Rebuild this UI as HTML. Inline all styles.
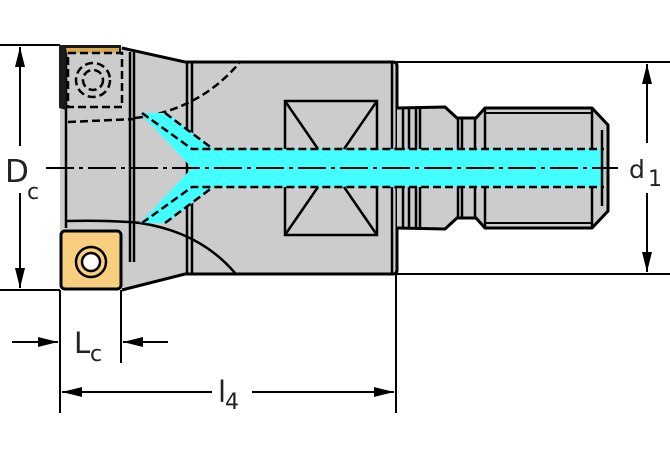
<!DOCTYPE html>
<html><head><meta charset="utf-8"><style>
html,body{margin:0;padding:0;background:#fff;width:670px;height:460px;overflow:hidden}
svg{display:block}
text{font-family:"DejaVu Sans","Liberation Sans",sans-serif;fill:#222}
</style></head><body>
<svg width="670" height="460" viewBox="0 0 670 460" xmlns="http://www.w3.org/2000/svg">
<defs>
<marker id="ah" viewBox="0 0 20 10" refX="20" refY="5" markerWidth="20" markerHeight="10" markerUnits="userSpaceOnUse" orient="auto"><path d="M0,0 L20,5 L0,10 Z" fill="#000"/></marker>
</defs>
<!-- head -->
<path d="M60,47 L122,47 L185,62 L396,62 L396,274 L185,274 L122,289 L60,289 Z" fill="#cccccc"/>
<path d="M122,48 L185,62 L393,62 Q397,62 397,66 L397,270 Q397,274 393,274 L185,274 L122,290" fill="none" stroke="#000" stroke-width="3"/>
<g stroke="#000" stroke-width="2.5" fill="none">
<line x1="66" y1="52" x2="66" y2="228"/>
<line x1="130" y1="52" x2="130" y2="262"/>
<line x1="134" y1="52" x2="134" y2="262"/>
<line x1="187" y1="62" x2="187" y2="274"/>
<line x1="192" y1="62" x2="192" y2="274"/>
<line x1="392" y1="62" x2="392" y2="274"/>
</g>
<path d="M66,221 Q110,220 140,223 Q200,232 235,273" fill="none" stroke="#000" stroke-width="2.5"/>
<!-- top insert -->
<path d="M59,45 L121,45 L121,52 L68,52 L66,58 L66,110 L59,108 Z" fill="#1a1a1a"/>
<path d="M66,48 L119,48 L119,53 L67,53 Z" fill="#d9a84e"/>
<g stroke="#000" stroke-width="2.5" fill="none" stroke-dasharray="8,4">
<rect x="68" y="53" width="54" height="54"/>
<circle cx="93" cy="80" r="17"/>
<circle cx="93" cy="80" r="10"/>
<path d="M68,122 L135,119"/>
<path d="M135,118 Q200,110 240,62"/>
</g>
<!-- coolant -->
<path d="M140,113 L167,113 L213,149 L604,149 L604,187 L213,187 L167,223 L140,223 L192,168 Z" fill="#44ffff"/>
<g stroke="#000" stroke-width="2.5" fill="none" stroke-dasharray="8,4">
<path d="M142,113 L192,149 L213,149 L397,149"/>
<path d="M165,113 L213,149"/>
<path d="M142,223 L192,187 L213,187 L397,187"/>
<path d="M165,223 L213,187"/>
</g>
<g stroke="#000" stroke-width="2.5" fill="none">
<path d="M285,149 L285,101 L377,101 L377,149"/>
<path d="M285,187 L285,235 L377,235 L377,187"/>
<path d="M285,101 L318,149 M377,101 L344,149 M285,235 L318,187 M377,235 L344,187"/>
</g>
<!-- bottom insert -->
<rect x="61" y="231" width="60" height="58" rx="4" fill="#f7cf7f" stroke="#000" stroke-width="3"/>
<circle cx="91" cy="262" r="15" fill="none" stroke="#000" stroke-width="2.5"/>
<circle cx="91" cy="262" r="9" fill="#fff" stroke="#000" stroke-width="2.5"/>
<!-- shank -->
<path d="M397,108 L445,107 L457,118 L476,118 L485,108 L592,108 L608,125 L608,211 L592,228 L485,228 L476,218 L457,218 L445,229 L397,228 Z" fill="#cccccc"/>
<path d="M604,149 L604,187 L397,187 L397,149 Z" fill="#44ffff"/>
<g stroke="#000" stroke-width="2.5" fill="none" stroke-dasharray="8,4">
<path d="M397,149 L604,149 M397,187 L604,187"/>
</g>
<path d="M397,108 L445,107 L457,118 L476,118 L485,108 L592,108 L608,125 L608,211 L592,228 L485,228 L476,218 L457,218 L445,229 L397,228" fill="none" stroke="#000" stroke-width="3"/>
<g stroke="#000" stroke-width="2.5">
<path d="M403,108V149M403,187V228 M409,108V149M409,187V228 M416,108V149M416,187V228 M420,108V149M420,187V228 M458,118V149M458,187V218 M462,118V149M462,187V218 M475,118V149M475,187V218 M485,108V149M485,187V228 M592,108V149M592,187V228 M602,130V206"/>
</g>
<line x1="485" y1="113" x2="592" y2="113" stroke="#000" stroke-width="2"/>
<line x1="485" y1="223" x2="592" y2="223" stroke="#000" stroke-width="2"/>
<line x1="46" y1="168" x2="618" y2="168" stroke="#000" stroke-width="2" stroke-dasharray="28,5,4,5"/>
<!-- dimensions -->
<g stroke="#000" stroke-width="2" fill="none">
<line x1="0" y1="45" x2="60" y2="45"/>
<line x1="0" y1="290" x2="60" y2="290"/>
<line x1="20" y1="146" x2="20" y2="47" marker-end="url(#ah)"/>
<line x1="20" y1="193" x2="20" y2="288" marker-end="url(#ah)"/>
<line x1="396" y1="62" x2="670" y2="62"/>
<line x1="396" y1="274" x2="670" y2="274"/>
<line x1="647" y1="143" x2="647" y2="64" marker-end="url(#ah)"/>
<line x1="647" y1="193" x2="647" y2="272" marker-end="url(#ah)"/>
<line x1="60" y1="290" x2="60" y2="413"/>
<line x1="121" y1="290" x2="121" y2="363"/>
<line x1="396" y1="274" x2="396" y2="413"/>
<line x1="12" y1="342" x2="58" y2="342" marker-end="url(#ah)"/>
<line x1="168" y1="342" x2="123" y2="342" marker-end="url(#ah)"/>
<line x1="212" y1="392" x2="62" y2="392" marker-end="url(#ah)"/>
<line x1="252" y1="392" x2="394" y2="392" marker-end="url(#ah)"/>
</g>
<text x="5" y="182" font-size="31">D</text><text x="27" y="199" font-size="22">c</text>
<text x="629" y="178" font-size="25">d</text><text x="648" y="186" font-size="22">1</text>
<text x="74" y="353" font-size="29">L</text><text x="90" y="361" font-size="22">c</text>
<text x="218" y="402" font-size="29">l</text><text x="225" y="409" font-size="22">4</text>
</svg>
</body></html>
